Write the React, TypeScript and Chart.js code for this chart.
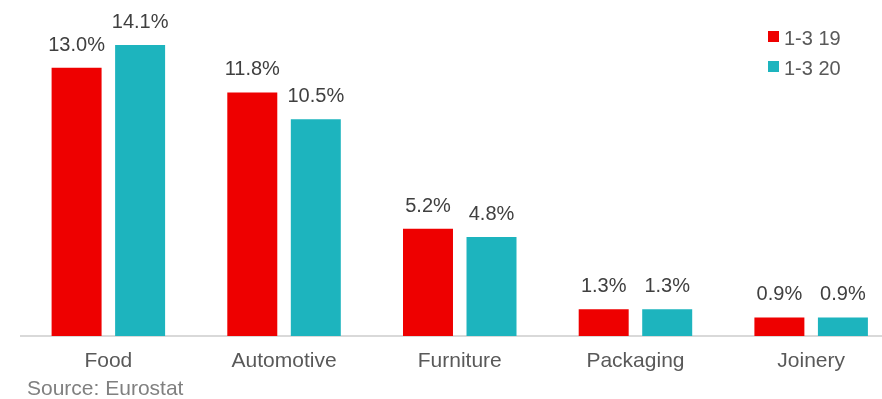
import React, { useEffect, useRef } from "react";
import { Chart, registerables } from "chart.js";

Chart.register(...registerables);

const categories = ["Food", "Automotive", "Furniture", "Packaging", "Joinery"];
const seriesNames = ["1-3 19", "1-3 20"];
const values19 = [13.0, 11.8, 5.2, 1.3, 0.9];
const values20 = [14.1, 10.5, 4.8, 1.3, 0.9];
const seriesColors = ["#EE0000", "#1DB4BE"];
const sourceText = "Source: Eurostat";

const FONT = "'Liberation Sans', Arial, sans-serif";

const labelPlugin = {
  id: "barLabels",
  afterDatasetsDraw(chart: any) {
    const ctx = chart.ctx;
    ctx.save();
    ctx.font = `20px ${FONT}`;
    ctx.fillStyle = "#404040";
    ctx.textAlign = "center";
    ctx.textBaseline = "alphabetic";
    chart.data.datasets.forEach((ds: any, di: number) => {
      const meta = chart.getDatasetMeta(di);
      meta.data.forEach((bar: any, i: number) => {
        const v = ds.data[i] as number;
        ctx.fillText(v.toFixed(1) + "%", bar.x, bar.y - 17);
      });
    });
    // legend
    ctx.textAlign = "left";
    ctx.font = `20px ${FONT}`;
    ctx.fillStyle = "#595959";
    seriesNames.forEach((name, i) => {
      const baseY = 45 + i * 30;
      ctx.fillStyle = seriesColors[i];
      ctx.fillRect(768, baseY - 14, 11, 11);
      ctx.fillStyle = "#595959";
      ctx.fillText(name, 784, baseY);
    });
    ctx.restore();
  },
};

export default function App() {
  const ref = useRef<HTMLCanvasElement>(null);
  useEffect(() => {
    if (!ref.current) return;
    const chart = new Chart(ref.current, {
      type: "bar",
      data: {
        labels: categories,
        datasets: [
          { label: seriesNames[0], data: values19, backgroundColor: seriesColors[0], barPercentage: 0.787, categoryPercentage: 0.723 },
          { label: seriesNames[1], data: values20, backgroundColor: seriesColors[1], barPercentage: 0.787, categoryPercentage: 0.723 },
        ],
      },
      options: {
        responsive: false,
        animation: false,
        layout: { padding: { left: 20.5, right: 1, top: 26.4, bottom: 0 } },
        plugins: { legend: { display: false }, tooltip: { enabled: false }, title: { display: false } },
        scales: {
          x: {
            grid: { display: false, drawTicks: false },
            border: { display: true, color: "#D9D9D9", width: 2 },
            ticks: { color: "#595959", font: { family: FONT, size: 21 }, padding: 13, maxRotation: 0 },
            afterFit: (scale: any) => {
              scale.height = 63;
            },
          },
          y: { display: false, min: 0, max: 15 },
        },
      },
      plugins: [labelPlugin],
    });
    return () => chart.destroy();
  }, []);
  return (
    <div style={{ position: "fixed", left: 0, top: 0, width: 882, height: 399, overflow: "hidden", background: "#fff" }}>
      <canvas ref={ref} width={900} height={399} style={{ position: "absolute", left: 0, top: 0 }} />
      <div
        style={{
          position: "absolute",
          left: 27,
          top: 377,
          fontFamily: FONT,
          fontSize: 21,
          lineHeight: "21px",
          color: "#808080",
          whiteSpace: "nowrap",
        }}
      >
        {sourceText}
      </div>
    </div>
  );
}
